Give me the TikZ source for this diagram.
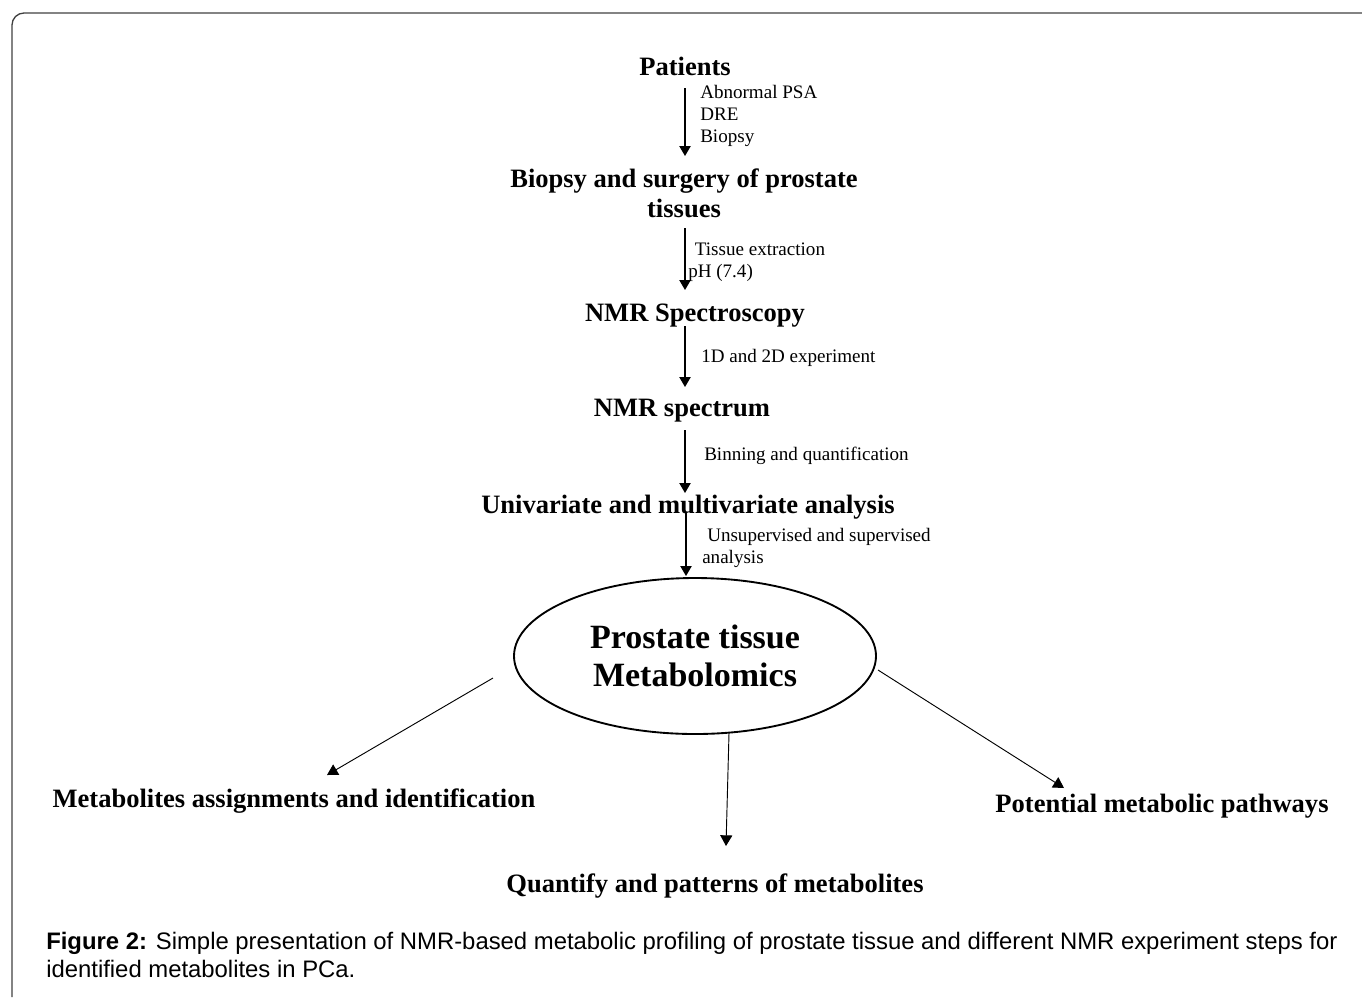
\documentclass[tikz,border=0pt]{standalone}
\usepackage{fontspec}
\setmainfont{Liberation Serif}
\newfontfamily\capfont{Liberation Sans}
\usetikzlibrary{shapes.geometric,arrows.meta}
\tikzstyle{head} = [font=\fontsize{19.9}{22.5}\selectfont\bfseries, align=center, inner sep=0pt]
\tikzstyle{note} = [font=\fontsize{14.3}{16.5}\selectfont, align=left, inner sep=0pt, anchor=west]
\tikzstyle{hub} = [draw, ellipse, line width=1.4pt, inner sep=0pt, minimum width=271.5pt, minimum height=117pt, align=center, font=\fontsize{25.5}{29}\selectfont\bfseries]
\tikzstyle{line} = [draw, line width=0.9pt, -{Triangle[length=7.5pt,width=8.5pt]}]
\tikzstyle{branch} = [draw, line width=0.7pt, -{Triangle[length=8pt,width=9pt]}]

\begin{document}
\begin{tikzpicture}[x=0.75pt,y=-0.75pt]
	\useasboundingbox (0,0) rectangle (1362,997);
	% frame
	\draw [black!75, line width=1pt, rounded corners=9pt] (12,997) -- (12,13) -- (1362,13);

	% put the steps where we want them
	\node [head] (patients) at (685,66) {Patients};
	\node [head] (biopsy) at (684,193) {Biopsy and surgery of prostate\\tissues};
	\node [head] (nmrspec) at (695,316) {NMR Spectroscopy};
	\node [head] (spectrum) at (682,411) {NMR spectrum};
	\node [head] (analysis) at (688,507) {Univariate and multivariate analysis};
	\node [hub] (meta) at (695,656) {Prostate tissue\\Metabolomics};
	\node [head] (assign) at (294,801) {Metabolites assignments and identification};
	\node [head] (quantify) at (715,886) {Quantify and patterns of metabolites};
	\node [head] (pathways) at (1162,806) {Potential metabolic pathways};

	% arrow ends
	\coordinate (a1s) at (685,88);  \coordinate (a1e) at (685,156);
	\coordinate (a2s) at (685,228); \coordinate (a2e) at (685,290);
	\coordinate (a3s) at (685,326); \coordinate (a3e) at (685,387);
	\coordinate (a4s) at (685,430); \coordinate (a4e) at (685,493);
	\coordinate (a5s) at (686,512); \coordinate (a5e) at (686,576);
	\coordinate (bls) at (493,678); \coordinate (ble) at (327,775);
	\coordinate (bds) at (729,733); \coordinate (bde) at (726,846);
	\coordinate (brs) at (878,670); \coordinate (bre) at (1064,788);

	% the steps
	\draw [line] (a1s) -- (a1e);
	\draw [line] (a2s) -- (a2e);
	\draw [line] (a3s) -- (a3e);
	\draw [line] (a4s) -- (a4e);
	\draw [line] (a5s) -- (a5e);
	\node [note] (n1) at (700,116) {Abnormal PSA\\DRE\\Biopsy};
	\node [note] (n2) at (688,262) {\hspace*{5pt}Tissue extraction\\pH (7.4)};
	\node [note] (n3) at (701,358) {1D and 2D experiment};
	\node [note] (n4) at (704,456) {Binning and quantification};
	\node [note] (n5) at (702,548) {\hspace*{3.75pt}Unsupervised and supervised\\analysis};

	% outcomes
	\draw [branch] (bls) -- (ble);
	\draw [branch] (bds) -- (bde);
	\draw [branch] (brs) -- (bre);

	% caption
	\node [anchor=west, align=left, inner sep=0pt, font=\capfont\fontsize{17.9}{21}\selectfont] (cap) at (46,955)
		{\textbf{Figure 2:} Simple presentation of NMR-based metabolic profiling of prostate tissue and different NMR experiment steps for\\identified metabolites in PCa.};
\end{tikzpicture}
\end{document}
